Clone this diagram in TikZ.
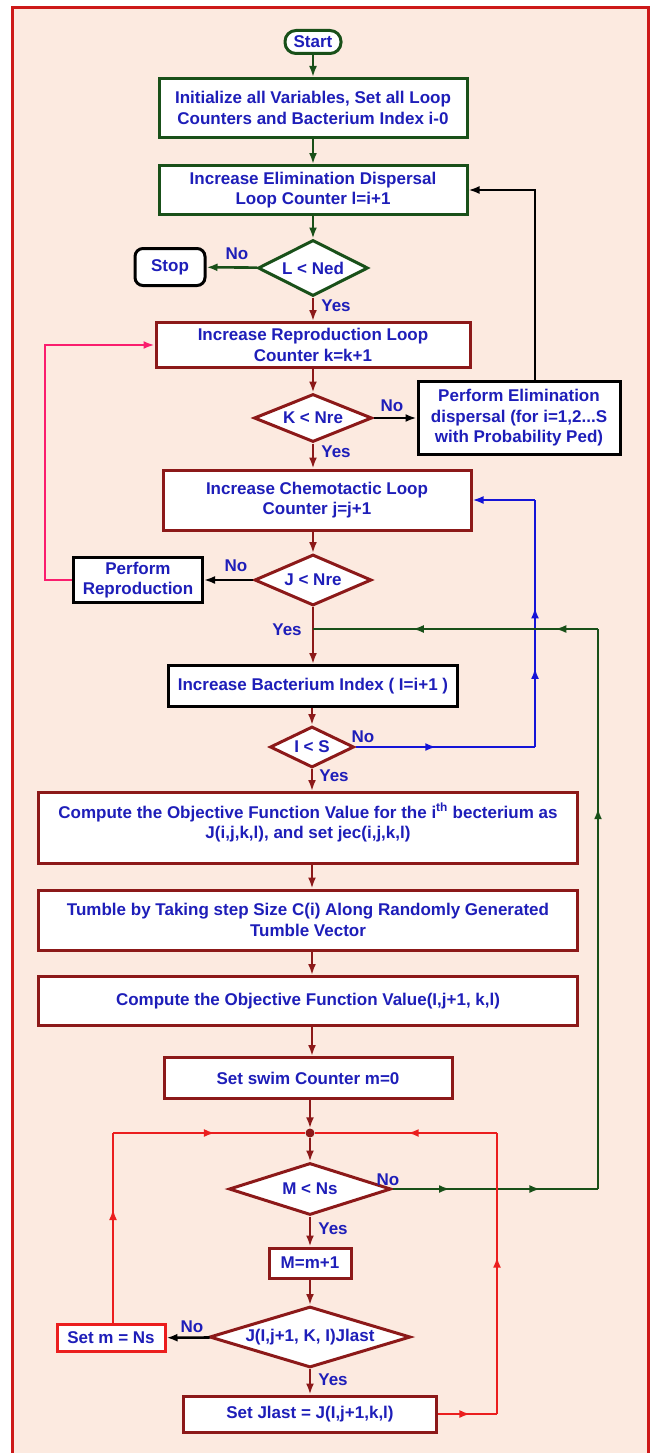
\documentclass[tikz,border=0pt]{standalone}
\usepackage{fontspec}
\setmainfont{Liberation Sans}
\usepackage{xcolor}
\usetikzlibrary{arrows.meta}
\usetikzlibrary{shapes.geometric}
\usetikzlibrary{decorations.markings}

\definecolor{bgpeach}{RGB}{252,234,224}
\definecolor{framered}{RGB}{205,25,25}
\definecolor{flowgreen}{RGB}{25,80,25}
\definecolor{flowred}{RGB}{140,25,25}
\definecolor{loopred}{RGB}{235,30,30}
\definecolor{looppink}{RGB}{250,30,110}
\definecolor{loopblue}{RGB}{20,20,215}
\definecolor{textblue}{RGB}{30,30,185}

\tikzset{
	box/.style={rectangle, line width=3pt, fill=white, text=textblue, align=center, inner sep=2pt,
		font=\bfseries\fontsize{17}{20.5}\selectfont},
	greenbox/.style={box, draw=flowgreen},
	redbox/.style={box, draw=flowred},
	blackbox/.style={box, draw=black},
	decision/.style={diamond, aspect=2, inner sep=0pt, line width=3pt, fill=white, draw=flowred,
		text=textblue, font=\bfseries\fontsize{17}{20.5}\selectfont},
	lbl/.style={text=textblue, font=\bfseries\fontsize{17}{20.5}\selectfont, inner sep=0pt},
	dot/.style={circle, fill=flowred, inner sep=0pt, minimum size=9pt},
	greenline/.style={draw=flowgreen, line width=2.6pt},
	redline/.style={draw=flowred, line width=2.6pt},
	blackline/.style={draw=black, line width=2.6pt},
	brightline/.style={draw=loopred, line width=2.6pt},
	pinkline/.style={draw=looppink, line width=2.6pt},
	blueline/.style={draw=loopblue, line width=2.6pt},
	midarrow/.style={postaction={decorate, decoration={markings,
		mark=at position #1 with {\arrow{Latex[length=11pt,width=8pt]}}}}}
}

\begin{document}
\begin{tikzpicture}[x=1pt, y=-1pt, >={Latex[length=11pt,width=8pt]}]
	\useasboundingbox (0,0) rectangle (655,1453);
	\fill[bgpeach] (12,8) rectangle (648,1470);		% background
	\draw[framered, line width=3pt] (12,1470) -- (12,8) -- (648,8) -- (648,1470);	% frame

	% elimination dispersal loop
	\node[greenbox, rounded corners=11pt, minimum width=56pt, minimum height=23pt] (start) at (313,42) {Start};
	\node[greenbox, minimum width=308pt, minimum height=59pt] (init) at (313,108) {Initialize all Variables, Set all Loop\\Counters and Bacterium Index i-0};
	\node[greenbox, minimum width=308pt, minimum height=49pt] (elimloop) at (313,190) {Increase Elimination Dispersal\\Loop Counter l=i+1};
	\node[decision, draw=flowgreen, minimum width=110pt, minimum height=56pt] (ledec) at (313,268) {L < Ned};
	\node[blackbox, rounded corners=8pt, minimum width=70pt, minimum height=37pt] (stop) at (170,267) {Stop};

	% reproduction loop
	\node[redbox, minimum width=314pt, minimum height=45pt] (reproloop) at (313,345) {Increase Reproduction Loop\\Counter k=k+1};
	\node[decision, minimum width=118pt, minimum height=48pt] (kdec) at (313,418) {K < Nre};
	\node[blackbox, minimum width=202pt, minimum height=73pt] (elimdisp) at (519,418) {Perform Elimination\\dispersal (for i=1,2...S\\with Probability Ped)};

	% chemotactic loop
	\node[redbox, minimum width=308pt, minimum height=60pt] (chemoloop) at (317,500) {Increase Chemotactic Loop\\Counter j=j+1};
	\node[decision, minimum width=117pt, minimum height=51pt] (jdec) at (313,580) {J < Nre};
	\node[blackbox, minimum width=129pt, minimum height=45pt] (reprod) at (138,580) {Perform\\Reproduction};
	\node[blackbox, minimum width=289pt, minimum height=41pt] (bactidx) at (313,686) {Increase Bacterium Index ( I=i+1 )};
	\node[decision, minimum width=84pt, minimum height=41pt] (idec) at (312,747) {I < S};

	% tumble and swim
	\node[redbox, minimum width=539pt, minimum height=71pt, text depth=14pt] (objfun) at (308,828) {Compute the Objective Function Value for the i\textsuperscript{th} becterium as\\J(i,j,k,l), and set jec(i,j,k,l)};
	\node[redbox, minimum width=539pt, minimum height=60pt] (tumble) at (308,920) {Tumble by Taking step Size C(i) Along Randomly Generated\\Tumble Vector};
	\node[redbox, minimum width=539pt, minimum height=49pt] (objval) at (308,1001) {Compute the Objective Function Value(I,j+1, k,l)};
	\node[redbox, minimum width=288pt, minimum height=41pt] (swimset) at (308,1078) {Set swim Counter m=0};
	\node[dot] (junction) at (310,1133) {};
	\node[decision, minimum width=162pt, minimum height=52pt] (mdec) at (310,1189) {M < Ns};
	\node[redbox, minimum width=82pt, minimum height=30pt] (mstep) at (310,1263) {M=m+1};
	\node[decision, aspect=3.3, minimum width=201pt, minimum height=61pt] (jlastdec) at (310,1337) {J(I,j+1, K, I)Jlast};
	\node[box, draw=loopred, minimum width=108pt, minimum height=27pt] (setmns) at (111,1338) {Set m = Ns};
	\node[redbox, minimum width=253pt, minimum height=36pt] (setjlast) at (310,1414) {Set Jlast = J(I,j+1,k,l)};

	% bends of the loop lines
	\coordinate (edup) at (535,190);
	\coordinate (bluecorner) at (535,747);
	\coordinate (bluetop) at (535,500);
	\coordinate (greencorner) at (598,1189);
	\coordinate (greentop) at (598,629);
	\coordinate (redleft) at (113,1133);
	\coordinate (redright) at (497,1133);
	\coordinate (redlow) at (497,1414);

	% main flow
	\draw[greenline, ->] (start) -- (start |- init.north);
	\draw[greenline, ->] (init) -- (init |- elimloop.north);
	\draw[greenline, ->] (elimloop) -- (elimloop |- ledec.north);
	\draw[greenline, ->] (ledec) -- (stop);
	\draw[redline, ->] (ledec) -- (ledec |- reproloop.north);
	\draw[redline, ->] (reproloop) -- (reproloop |- kdec.north);
	\draw[blackline, ->] (kdec) -- (elimdisp);
	\draw[blackline, ->] (elimdisp.north -| edup) |- (elimloop.east);
	\draw[redline, ->] (kdec) -- (kdec |- chemoloop.north);
	\draw[redline, ->] (chemoloop.south -| jdec) -- (jdec.north);
	\draw[blackline, ->] (jdec) -- (reprod);
	\draw[pinkline, ->] (reprod.west) -- ++(-27,0) |- (reproloop.west);
	\draw[redline, ->] (jdec) -- (jdec |- bactidx.north);
	\draw[redline, ->] (bactidx.south -| idec) -- (idec.north);
	\draw[blueline, midarrow=0.45] (idec.east) -- (bluecorner);
	\draw[blueline, midarrow=0.32, midarrow=0.565] (bluecorner) -- (bluetop);
	\draw[blueline, ->] (bluetop) -- (chemoloop.east);
	\draw[redline, ->] (idec) -- (idec |- objfun.north);
	\draw[redline, ->] (objfun.south -| idec) -- (idec |- tumble.north);
	\draw[redline, ->] (tumble.south -| idec) -- (idec |- objval.north);
	\draw[redline, ->] (objval.south -| idec) -- (idec |- swimset.north);

	% swim loop
	\draw[redline, ->] (swimset.south -| junction) -- (junction);
	\draw[redline, ->] (junction) -- (mdec);
	\draw[brightline, midarrow=0.53] (redleft) -- (junction);
	\draw[brightline, midarrow=0.49] (redright) -- (junction);
	\draw[greenline, midarrow=0.28, midarrow=0.72] (mdec.east) -- (greencorner);
	\draw[greenline, midarrow=0.68] (greencorner) -- (greentop);
	\draw[greenline, midarrow=0.15, midarrow=0.65] (greentop) -- (jdec |- greentop);
	\draw[redline, ->] (mdec) -- (mstep);
	\draw[redline, ->] (mstep) -- (jlastdec);
	\draw[blackline, ->] (jlastdec) -- (setmns);
	\draw[brightline, midarrow=0.6] (setmns.north -| redleft) -- (redleft);
	\draw[redline, ->] (jlastdec) -- (setjlast);
	\draw[brightline, midarrow=0.55] (setjlast.east) -- (redlow);
	\draw[brightline, midarrow=0.56] (redlow) -- (redright);

	% yes and no labels
	\node[lbl] (noL) at (237,254) {No};
	\node[lbl] (yesL) at (336,306) {Yes};
	\node[lbl] (noK) at (392,406) {No};
	\node[lbl] (yesK) at (336,452) {Yes};
	\node[lbl] (noJ) at (236,566) {No};
	\node[lbl] (yesJ) at (287,630) {Yes};
	\node[lbl] (noI) at (363,737) {No};
	\node[lbl] (yesI) at (334,776) {Yes};
	\node[lbl] (noM) at (388,1180) {No};
	\node[lbl] (yesM) at (333,1229) {Yes};
	\node[lbl] (noJl) at (192,1327) {No};
	\node[lbl] (yesJl) at (333,1380) {Yes};
\end{tikzpicture}
\end{document}
